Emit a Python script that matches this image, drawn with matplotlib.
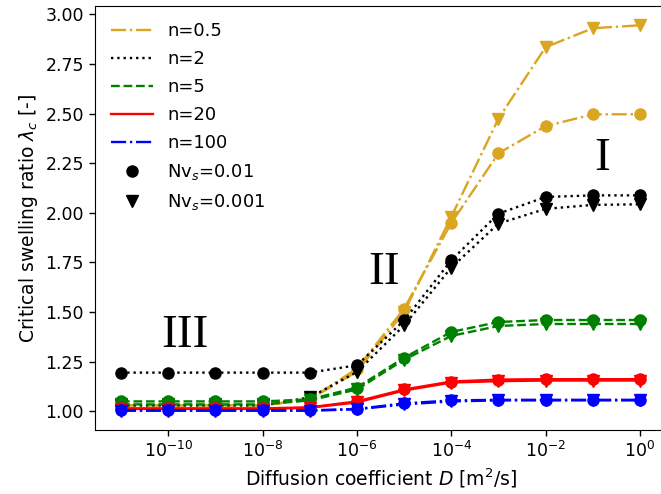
import matplotlib
matplotlib.use("Agg")
import matplotlib.pyplot as plt
from matplotlib.ticker import NullLocator

D = [1e-11, 1e-10, 1e-9, 1e-8, 1e-7, 1e-6, 1e-5, 1e-4, 1e-3, 1e-2, 1e-1, 1e0]

n05_nv01 = [1.03, 1.03, 1.03, 1.03, 1.06, 1.215, 1.517, 1.949, 2.30, 2.437, 2.496, 2.497]
n05_nv001 = [1.03, 1.03, 1.03, 1.03, 1.06, 1.20, 1.50, 1.98, 2.475, 2.835, 2.93, 2.945]
n2_nv01 = [1.195, 1.195, 1.195, 1.195, 1.195, 1.232, 1.458, 1.761, 1.996, 2.08, 2.088, 2.088]
n2_nv001 = [1.03, 1.03, 1.03, 1.03, 1.07, 1.198, 1.433, 1.724, 1.946, 2.02, 2.04, 2.043]
n5_nv01 = [1.05, 1.05, 1.05, 1.05, 1.06, 1.12, 1.27, 1.40, 1.45, 1.46, 1.46, 1.46]
n5_nv001 = [1.035, 1.035, 1.035, 1.035, 1.055, 1.11, 1.26, 1.38, 1.43, 1.44, 1.44, 1.44]
n20_nv01 = [1.015, 1.015, 1.015, 1.015, 1.02, 1.05, 1.11, 1.15, 1.16, 1.162, 1.162, 1.162]
n20_nv001 = [1.012, 1.012, 1.012, 1.012, 1.018, 1.045, 1.105, 1.145, 1.152, 1.155, 1.155, 1.155]
n100_nv01 = [1.005, 1.005, 1.005, 1.005, 1.005, 1.012, 1.04, 1.055, 1.058, 1.058, 1.058, 1.058]
n100_nv001 = [1.003, 1.003, 1.003, 1.003, 1.003, 1.01, 1.035, 1.05, 1.055, 1.055, 1.055, 1.055]

series = [
    ("n=0.5", "goldenrod", "-.", n05_nv01, n05_nv001),
    ("n=2", "black", ":", n2_nv01, n2_nv001),
    ("n=5", "green", "--", n5_nv01, n5_nv001),
    ("n=20", "red", "-", n20_nv01, n20_nv001),
    ("n=100", "blue", "-.", n100_nv01, n100_nv001),
]
xticks = [1e-10, 1e-8, 1e-6, 1e-4, 1e-2, 1e0]
yticks = [1.00, 1.25, 1.50, 1.75, 2.00, 2.25, 2.50, 2.75, 3.00]

fs = 12.5
plt.rcParams["font.size"] = fs
fig = plt.figure(figsize=(6.61, 4.94), dpi=100)
ax = fig.add_axes([95 / 661, 1 - 430 / 494, (666 - 95) / 661, (430 - 6) / 494])

lw = 1.7
ms = 8
for label, c, ls, a, b in series:
    ax.plot(D, a, color=c, ls=ls, lw=lw, marker="o", ms=ms)
    ax.plot(D, b, color=c, ls=ls, lw=lw, marker="v", ms=ms)

handles = []
for label, c, ls, a, b in series:
    h, = ax.plot([], [], color=c, ls=ls, lw=lw, label=label)
    handles.append(h)
h1, = ax.plot([], [], "o", color="black", ms=ms, label="Nv$_s$=0.01")
h2, = ax.plot([], [], "v", color="black", ms=ms, label="Nv$_s$=0.001")
handles += [h1, h2]

ax.set_xscale("log")
ax.set_xticks(xticks)
ax.xaxis.set_minor_locator(NullLocator())
ax.set_yticks(yticks)
ax.tick_params(labelsize=fs, length=4.4, width=1)

ax.set_xlabel("Diffusion coefficient $D$ [m$^2$/s]", fontsize=13.5)
ax.set_ylabel("Critical swelling ratio $\\lambda_c$ [-]", fontsize=13.5)

ax.legend(handles=handles, loc="upper left", frameon=False, fontsize=13,
          handlelength=2.3, labelspacing=0.55, bbox_to_anchor=(0.0, 1.0))

tf = dict(family="Liberation Serif", fontsize=34, ha="center", va="center")
ax.text(10 ** -0.8, 2.27, "I", **tf)
ax.text(10 ** -5.43, 1.70, "II", **tf)
ax.text(10 ** -9.65, 1.38, "III", **tf)

fig.savefig("out.png", dpi=100)
